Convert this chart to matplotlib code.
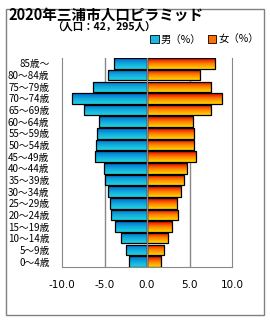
import numpy as np
import matplotlib
matplotlib.use("Agg")
import matplotlib.pyplot as plt
from matplotlib.patches import Rectangle, Patch
from matplotlib.colors import LinearSegmentedColormap

plt.rcParams['font.family'] = ['Noto Sans CJK JP', 'DejaVu Sans']

# age groups, bottom to top
ages = ["0～4歳", "5～9歳", "10～14歳", "15～19歳", "20～24歳", "25～29歳",
        "30～34歳", "35～39歳", "40～44歳", "45～49歳", "50～54歳", "55～59歳",
        "60～64歳", "65～69歳", "70～74歳", "75～79歳", "80～84歳", "85歳～"]
male = [2.1, 2.45, 3.05, 3.75, 4.2, 4.35, 4.6, 5.0, 5.1, 6.1, 6.0, 5.9,
        5.7, 7.4, 8.8, 6.4, 4.6, 3.9]
female = [1.7, 2.05, 2.5, 2.95, 3.65, 3.55, 4.0, 4.35, 4.7, 5.75, 5.5, 5.5,
          5.4, 7.5, 8.8, 7.5, 6.2, 8.0]
xticks = [-10, -5, 0, 5, 10]

W, H = 270, 320
fig = plt.figure(figsize=(W / 100, H / 100), dpi=100)
ax = fig.add_axes([62 / W, 1 - 267 / H, 170 / W, 209 / H])

cm_m = LinearSegmentedColormap.from_list("m", ["#22d4e0", "#10a8dc", "#0068d0"])
cm_f = LinearSegmentedColormap.from_list("f", ["#ffd800", "#ff8000", "#e00000"])
grad = np.linspace(0, 1, 64).reshape(-1, 1)

y = np.arange(len(ages))
bm = ax.barh(y, [-v for v in male], height=0.9, color="none", edgecolor="black", lw=0.9, zorder=3)
bf = ax.barh(y, female, height=0.9, color="none", edgecolor="black", lw=0.9, zorder=3)
for bars, cm in ((bm, cm_m), (bf, cm_f)):
    for p in bars:
        x0, y0 = p.get_x(), p.get_y()
        w, h = p.get_width(), p.get_height()
        im = ax.imshow(grad, cmap=cm, aspect="auto", zorder=2,
                       extent=[x0, x0 + w, y0 + h, y0], origin="upper")
        im.set_clip_path(p)

ax.set_xlim(-10, 10)
ax.set_ylim(-0.47, len(ages) - 0.53)
ax.set_xticks(xticks)
ax.set_xticklabels([f"{v:.1f}" for v in xticks], fontsize=7.5, family="DejaVu Sans")
ax.set_yticks(y)
ax.set_yticklabels(ages, fontsize=7)
ax.tick_params(length=0, pad=9)
ax.tick_params(axis="x", pad=9)
for v in xticks[1:-1]:
    ax.axvline(v, color="#888888", lw=1, zorder=1 if v != 0 else 4)
ax.spines["top"].set_visible(False)
for s in ["left", "bottom", "right"]:
    ax.spines[s].set_color("#888888")

fig.text(8 / W, 1 - 15 / H, "2020年三浦市人口ピラミッド", fontsize=10.5, fontweight="bold", va="center")
fig.text(104 / W, 1 - 27 / H, "（人口：42，295人）", fontsize=7.5, fontweight="bold", va="center", ha="center")

handles = [Patch(facecolor="#18b8e0", edgecolor="black", lw=0.6),
           Patch(facecolor="#ff7000", edgecolor="black", lw=0.6)]
fig.legend(handles, ["男（%）", "女（%）"], loc="center right", bbox_to_anchor=(264 / W, 1 - 40 / H),
           ncol=2, frameon=False, fontsize=7.5, handlelength=0.8, handleheight=0.8,
           handletextpad=0.2, columnspacing=0.6, borderpad=0)

fig.patches.append(Rectangle((6 / W, 1 - 315 / H), 258 / W, 306 / H, transform=fig.transFigure,
                             fill=False, edgecolor="#808080", lw=1))

fig.savefig("out.png", dpi=100)
